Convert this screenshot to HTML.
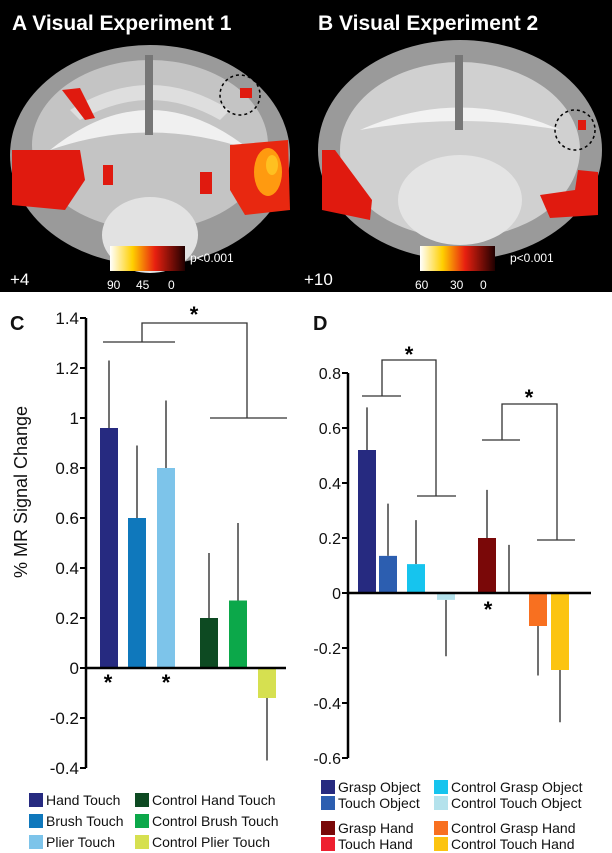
<!DOCTYPE html>
<html><head><meta charset="utf-8"><style>
html,body{margin:0;padding:0;background:#fff;width:612px;height:853px;overflow:hidden}
svg{display:block;font-family:"Liberation Sans",Arial,sans-serif}
</style></head><body>
<svg id="fig" width="612" height="853" viewBox="0 0 612 853">
<g>
<rect x="0" y="0" width="612" height="292" fill="#000"/>
<g>
<ellipse cx="150" cy="155" rx="140" ry="110" fill="#9a9a9a"/>
<ellipse cx="150" cy="145" rx="118" ry="85" fill="#c4c4c4"/>
<path d="M50,150 Q150,70 250,150 Q150,115 50,150Z" fill="#f0f0f0"/>
<path d="M70,110 Q150,60 230,110 L220,120 Q150,80 80,120Z" fill="#dedede"/>
<ellipse cx="150" cy="235" rx="48" ry="38" fill="#e2e2e2"/>
<rect x="145" y="55" width="8" height="80" fill="#777"/>
<path d="M12,150 L80,150 L85,180 L65,210 L12,205Z" fill="#e01a0f"/>
<path d="M230,145 L288,140 L290,210 L245,215 L230,190Z" fill="#e82810"/>
<ellipse cx="268" cy="172" rx="14" ry="24" fill="#ff9a10"/>
<ellipse cx="272" cy="165" rx="6" ry="10" fill="#ffc020"/>
<path d="M62,90 L80,88 L95,118 L85,120Z" fill="#e01a0f"/>
<rect x="240" y="88" width="12" height="10" fill="#e01a0f"/>
<rect x="103" y="165" width="10" height="20" fill="#e01a0f"/>
<rect x="200" y="172" width="12" height="22" fill="#e01a0f"/>
<ellipse cx="240" cy="95" rx="20" ry="20" fill="none" stroke="#000" stroke-dasharray="3,3" stroke-width="1.5"/>
</g>
<g>
<ellipse cx="460" cy="150" rx="142" ry="110" fill="#9a9a9a"/>
<ellipse cx="460" cy="150" rx="120" ry="88" fill="#d0d0d0"/>
<path d="M360,130 Q460,85 560,130 Q460,112 360,130Z" fill="#f2f2f2"/>
<ellipse cx="460" cy="200" rx="62" ry="45" fill="#e4e4e4"/>
<rect x="455" y="55" width="8" height="75" fill="#777"/>
<path d="M322,150 L335,150 L372,200 L370,220 L322,210Z" fill="#e01a0f"/>
<path d="M578,170 L598,172 L598,215 L550,218 L540,195 L575,190Z" fill="#e01a0f"/>
<rect x="578" y="120" width="8" height="10" fill="#e01a0f"/>
<ellipse cx="575" cy="130" rx="20" ry="20" fill="none" stroke="#000" stroke-dasharray="3,3" stroke-width="1.5"/>
</g>
<defs><linearGradient id="cb" x1="0" x2="1"><stop offset="0" stop-color="#fff"/><stop offset="0.3" stop-color="#ffd000"/><stop offset="0.6" stop-color="#e82010"/><stop offset="1" stop-color="#200000"/></linearGradient></defs>
<text x="12" y="30" fill="#fff" font-size="21" font-weight="bold">A  Visual Experiment 1</text>
<text x="318" y="30" fill="#fff" font-size="21" font-weight="bold">B  Visual Experiment 2</text>
<rect x="110" y="246" width="75" height="25" fill="url(#cb)"/>
<rect x="420" y="246" width="75" height="25" fill="url(#cb)"/>
<g fill="#fff" font-size="12">
<text x="190" y="262">p&lt;0.001</text><text x="510" y="262">p&lt;0.001</text>
<text x="107" y="289">90</text><text x="136" y="289">45</text><text x="168" y="289">0</text>
<text x="415" y="289">60</text><text x="450" y="289">30</text><text x="480" y="289">0</text>
</g>
<text x="10" y="285" fill="#fff" font-size="17">+4</text>
<text x="304" y="285" fill="#fff" font-size="17">+10</text>
</g>
<g id="chartC"></g>
<g id="chartD"></g>
</svg>
<script>
const cCats=["Hand Touch","Brush Touch","Plier Touch","Control Hand Touch","Control Brush Touch","Control Plier Touch"];
const cVals=[0.96,0.60,0.80,0.20,0.27,-0.12];
const cErr=[0.27,0.29,0.27,0.26,0.31,0.25];
const cColors=["#262a80","#0f78bc","#7dc4ea","#0d4a22","#0ca84a","#d6e050"];
const cTicks=[1.4,1.2,1,0.8,0.6,0.4,0.2,0,-0.2,-0.4];
const dCats=["Grasp Object","Touch Object","Control Grasp Object","Control Touch Object","Grasp Hand","Touch Hand","Control Grasp Hand","Control Touch Hand"];
const dVals=[0.52,0.135,0.105,-0.025,0.2,0,-0.12,-0.28];
const dErr=[0.155,0.19,0.16,0.205,0.175,0.175,0.18,0.19];
const dColors=["#262a80","#2c5eb0","#16c4ee","#b4e2ec","#7a0808","#ee2030","#f87020","#fcc410"];
const dTicks=[0.8,0.6,0.4,0.2,0,-0.2,-0.4,-0.6];
const NS="http://www.w3.org/2000/svg";
function mk(p,t,a){const e=document.createElementNS(NS,t);for(const k in a)e.setAttribute(k,a[k]);p.appendChild(e);return e;}
function draw(g,o){
  const y=v=>o.y0-v*o.ppu;
  mk(g,'line',{x1:o.ax,y1:y(o.ticks[0]),x2:o.ax,y2:y(o.ticks[o.ticks.length-1]),stroke:'#000','stroke-width':2.5});
  o.ticks.forEach(t=>{
    mk(g,'line',{x1:o.ax-6,y1:y(t),x2:o.ax,y2:y(t),stroke:'#000','stroke-width':2});
    const tx=mk(g,'text',{x:o.ax-7,y:y(t)+6,'text-anchor':'end','font-size':o.fs,fill:'#111'});
    tx.textContent=String(t);
    
    
  });
  o.vals.forEach((v,i)=>{
    const x=o.xs[i],w=o.w,c=x+w/2;
    const top=v>=0?y(v+o.err[i]):y(v-o.err[i]);
    mk(g,'line',{x1:c,y1:y(v),x2:c,y2:top,stroke:'#222','stroke-width':1.3});
    if(v!==0){
      const r=mk(g,'rect',{x:x,y:Math.min(y(v),y(0)),width:w,height:Math.abs(y(v)-y(0)),fill:o.colors[i]});
      
      
    }
  });
  mk(g,'line',{x1:o.ax,y1:y(0),x2:o.xend,y2:y(0),stroke:'#000','stroke-width':2.5});
}
const gc=document.getElementById('chartC');
draw(gc,{ax:86,y0:668,ppu:250,ticks:cTicks,vals:cVals,err:cErr,colors:cColors,cats:cCats,xs:[100,128,157,200,229,258],w:18,xend:286,fs:17});
const gd=document.getElementById('chartD');
draw(gd,{ax:348,y0:593,ppu:275,ticks:dTicks,vals:dVals,err:dErr,colors:dColors,cats:dCats,xs:[358,379,407,437,478,500,529,551],w:18,xend:591,fs:16});
function br(g,d){mk(g,'path',{d:d,fill:'none',stroke:'#333','stroke-width':1.3});}
br(gc,'M103,342H175M142,342V323H247V418M210,418H287');
br(gd,'M362,396H401M382,396V360H436V496M417,496H456');
br(gd,'M482,440H520M502,440V404H557V540M537,540H575');
function star(g,x,yy){const t=mk(g,'text',{x:x,y:yy,'text-anchor':'middle','font-size':22,'font-weight':'bold'});t.textContent='*';}
star(gc,194,322);star(gc,108,690);star(gc,166,690);
star(gd,409,362);star(gd,529,405);star(gd,488,617);
function lab(g,x,yy,s,fs,b,anchor){const t=mk(g,'text',{x:x,y:yy,'font-size':fs,'font-weight':b?'bold':'normal','text-anchor':anchor||'start',fill:'#111'});t.textContent=s;return t;}
const pc=lab(gc,10,330,'C',20,true);
const pd=lab(gd,313,330,'D',20,true);
const yt=lab(gc,0,0,'% MR Signal Change',18,false,'middle');
yt.setAttribute('transform','translate(27,492) rotate(-90)');


function legend(g,items,colors,pos){
  items.forEach((s,i)=>{
    const p=pos[i];
    mk(g,'rect',{x:p[0],y:p[1]-7,width:14,height:14,fill:colors[i]});
    const t=lab(g,p[0]+17,p[1]+5,s,14,false);
    
    
  });
}
legend(gc,cCats,cColors,[[29,800],[29,821],[29,842],[135,800],[135,821],[135,842]]);
legend(gd,dCats,dColors,[[321,787],[321,803],[434,787],[434,803],[321,828],[321,844],[434,828],[434,844]]);
</script>
</body></html>
